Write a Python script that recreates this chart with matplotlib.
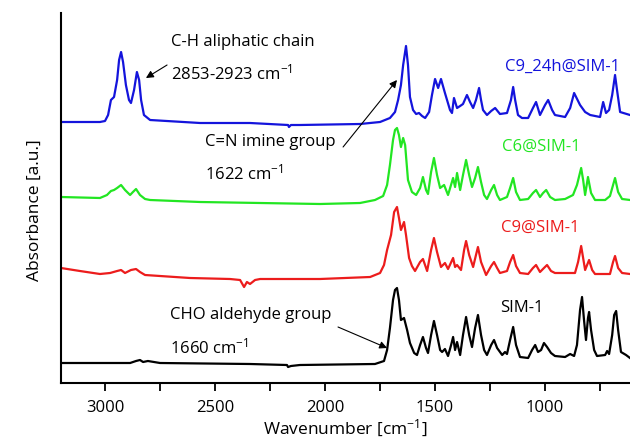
import matplotlib
matplotlib.use("Agg")
import matplotlib.pyplot as plt

# FTIR spectra (wavenumber cm-1, absorbance a.u.)
blue_wn = [3200, 3023, 3000, 2986, 2973, 2959, 2945, 2936, 2927, 2918, 2905, 2891, 2882, 2868, 2855,
           2845, 2836, 2823, 2795, 2568, 2341, 2168, 2164, 2155, 2114, 1841, 1750, 1705, 1682, 1668,
           1655, 1645, 1632, 1623, 1614, 1600, 1586, 1573, 1559, 1545, 1527, 1514, 1500, 1486, 1473,
           1455, 1432, 1423, 1414, 1400, 1386, 1373, 1355, 1341, 1327, 1314, 1300, 1291, 1282, 1264,
           1245, 1227, 1205, 1173, 1155, 1145, 1136, 1123, 1105, 1077, 1055, 1041, 1023, 1000, 986,
           968, 955, 909, 886, 868, 841, 818, 795, 750, 736, 723, 709, 695, 682, 673, 659, 614]
blue_abs = [261, 261, 262, 268, 283, 286, 303, 323, 331, 321, 298, 283, 280, 293, 311,
            303, 283, 268, 263, 260, 260, 258, 256, 258, 258, 259, 261, 265, 271, 283,
            298, 318, 337, 318, 286, 273, 269, 270, 267, 265, 271, 288, 304, 295, 304,
            290, 273, 270, 285, 275, 277, 279, 288, 281, 275, 283, 295, 283, 273, 268,
            272, 275, 269, 270, 283, 296, 283, 268, 265, 265, 275, 281, 268, 278, 283,
            273, 268, 266, 275, 290, 278, 271, 268, 266, 281, 270, 273, 288, 308, 293, 271, 268]

green_wn = [3200, 3023, 2991, 2973, 2959, 2945, 2927, 2909, 2886, 2873, 2859, 2841, 2818, 2795, 2568,
            2023, 1841, 1773, 1736, 1718, 1705, 1691, 1682, 1673, 1664, 1655, 1645, 1636, 1623, 1605,
            1586, 1568, 1555, 1541, 1532, 1518, 1505, 1491, 1477, 1459, 1441, 1418, 1409, 1400, 1386,
            1373, 1359, 1345, 1332, 1318, 1305, 1291, 1277, 1264, 1245, 1232, 1218, 1205, 1173, 1159,
            1145, 1132, 1114, 1077, 1055, 1041, 1023, 1009, 995, 977, 955, 909, 873, 855, 836,
            827, 818, 805, 791, 773, 727, 705, 682, 668, 650, 614]
green_abs = [186, 185, 188, 192, 193, 195, 198, 193, 188, 191, 194, 188, 184, 183, 181,
             179, 180, 183, 187, 198, 218, 243, 253, 255, 248, 236, 245, 238, 203, 191,
             188, 195, 206, 193, 189, 211, 225, 208, 195, 198, 188, 205, 196, 210, 193,
             208, 223, 208, 196, 205, 216, 201, 188, 184, 193, 198, 188, 183, 186, 195,
             205, 191, 183, 184, 190, 193, 186, 190, 193, 186, 183, 184, 188, 198, 215,
             203, 188, 206, 190, 183, 183, 187, 205, 191, 184, 183]

red_wn = [3200, 3114, 3023, 2977, 2945, 2927, 2909, 2882, 2859, 2841, 2818, 2750, 2614, 2432, 2386,
          2368, 2355, 2341, 2318, 2295, 2023, 1795, 1750, 1732, 1718, 1700, 1686, 1673, 1664, 1655,
          1641, 1632, 1618, 1605, 1591, 1568, 1555, 1536, 1518, 1505, 1491, 1473, 1455, 1441, 1418,
          1409, 1400, 1382, 1368, 1359, 1345, 1327, 1314, 1305, 1291, 1268, 1245, 1232, 1218, 1205,
          1173, 1159, 1145, 1132, 1114, 1077, 1055, 1041, 1023, 1005, 991, 973, 955, 864, 850,
          836, 827, 818, 800, 786, 773, 705, 691, 682, 668, 650, 614]
red_abs = [115, 112, 109, 110, 112, 113, 110, 113, 114, 111, 108, 107, 105, 104, 103,
           96, 101, 99, 103, 104, 104, 106, 110, 118, 133, 148, 171, 176, 165, 153,
           161, 148, 125, 117, 112, 121, 124, 112, 133, 145, 131, 116, 120, 114, 125,
           116, 118, 113, 133, 142, 128, 116, 128, 136, 121, 108, 117, 121, 115, 110,
           112, 121, 128, 117, 110, 109, 115, 118, 111, 115, 118, 112, 110, 110, 121,
           137, 125, 113, 123, 113, 109, 109, 121, 127, 115, 110, 109]

black_wn = [3200, 2932, 2886, 2859, 2841, 2827, 2805, 2750, 2341, 2173, 2168, 2155, 2114, 1773, 1732,
            1718, 1705, 1691, 1682, 1673, 1664, 1655, 1641, 1627, 1614, 1595, 1582, 1568, 1555, 1541,
            1532, 1518, 1505, 1491, 1477, 1468, 1455, 1441, 1427, 1418, 1409, 1400, 1386, 1373, 1359,
            1345, 1332, 1318, 1305, 1291, 1277, 1264, 1245, 1232, 1218, 1195, 1182, 1173, 1159, 1145,
            1132, 1114, 1077, 1059, 1045, 1032, 1018, 1005, 991, 973, 955, 909, 886, 868, 855,
            841, 832, 823, 814, 805, 800, 791, 777, 764, 727, 718, 709, 695, 686, 677,
            668, 655, 632, 614]
black_abs = [20, 20, 20, 22, 23, 21, 22, 20, 19, 18, 16, 17, 18, 19, 22,
             33, 55, 83, 93, 95, 83, 63, 65, 53, 40, 30, 28, 38, 46, 35,
             30, 48, 62, 48, 33, 31, 34, 27, 38, 46, 33, 41, 28, 48, 66,
             48, 36, 55, 68, 48, 33, 28, 38, 43, 35, 28, 31, 29, 43, 56,
             38, 26, 25, 33, 38, 31, 33, 40, 36, 30, 27, 26, 29, 27, 38,
             73, 86, 63, 43, 65, 71, 53, 33, 27, 28, 32, 29, 48, 68, 72,
             53, 31, 28, 25]

series_names = ["C9_24h@SIM-1", "C6@SIM-1", "C9@SIM-1", "SIM-1"]
series_colors = ["#1414dc", "#22e622", "#ec1c1c", "black"]


def main():
    plt.rcParams["font.family"] = ["Open Sans", "DejaVu Sans"]
    plt.rcParams["mathtext.fontset"] = "custom"
    plt.rcParams["mathtext.rm"] = "Open Sans"
    plt.rcParams["mathtext.default"] = "regular"

    fig = plt.figure(figsize=(6.3, 4.38), dpi=100)
    ax = fig.add_axes([61 / 630, 55 / 438, 569 / 630, 370 / 438])

    curves = [(blue_wn, blue_abs), (green_wn, green_abs), (red_wn, red_abs), (black_wn, black_abs)]
    for (wn, ab), color in zip(curves, series_colors):
        ax.plot(wn, ab, color=color, lw=1.6, solid_joinstyle="round")

    ax.set_xlim(3200, 614)
    ax.set_ylim(0, 370)
    ax.set_xticks([3000, 2500, 2000, 1500, 1000])
    ax.set_xticks([2750, 2250, 1750, 1250, 750], minor=True)
    ax.tick_params(axis="x", which="both", direction="out", length=6, width=1.3, labelsize=12, pad=6)
    ax.set_yticks([])
    for side in ["top", "right"]:
        ax.spines[side].set_visible(False)
    for side in ["left", "bottom"]:
        ax.spines[side].set_linewidth(1.5)

    ax.set_xlabel("Wavenumber [cm$^{-1}$]", fontsize=12.5)
    ax.xaxis.set_label_coords(0.499, -0.094)
    ax.set_ylabel("Absorbance [a.u.]", fontsize=12.5)
    ax.yaxis.set_label_coords(-0.032, 0.468)

    # series labels
    label_pos = [(923, 316), (1018, 236), (1023, 155), (1105, 75)]
    for name, color, (x, y) in zip(series_names, series_colors, label_pos):
        ax.text(x, y, name, color=color, fontsize=12, ha="center", va="center")

    arrow = dict(arrowstyle="-|>", color="black", lw=0.8, mutation_scale=11, shrinkA=0, shrinkB=0)
    ax.text(2700, 341, "C-H aliphatic chain", fontsize=12, va="center")
    ax.text(2700, 310, "2853-2923 cm$^{-1}$", fontsize=12, va="center")
    ax.annotate("", xy=(2814, 305), xytext=(2718, 318), arrowprops=arrow)

    ax.text(2545, 241, "C=N imine group", fontsize=12, va="center")
    ax.text(2545, 210, "1622 cm$^{-1}$", fontsize=12, va="center")
    ax.annotate("", xy=(1673, 303), xytext=(1918, 236), arrowprops=arrow)

    ax.text(2705, 68, "CHO aldehyde group", fontsize=12, va="center")
    ax.text(2705, 36, "1660 cm$^{-1}$", fontsize=12, va="center")
    ax.annotate("", xy=(1718, 35), xytext=(1941, 56), arrowprops=arrow)

    fig.savefig("out.png", dpi=100)
    plt.close(fig)


if __name__ == "__main__":
    main()
